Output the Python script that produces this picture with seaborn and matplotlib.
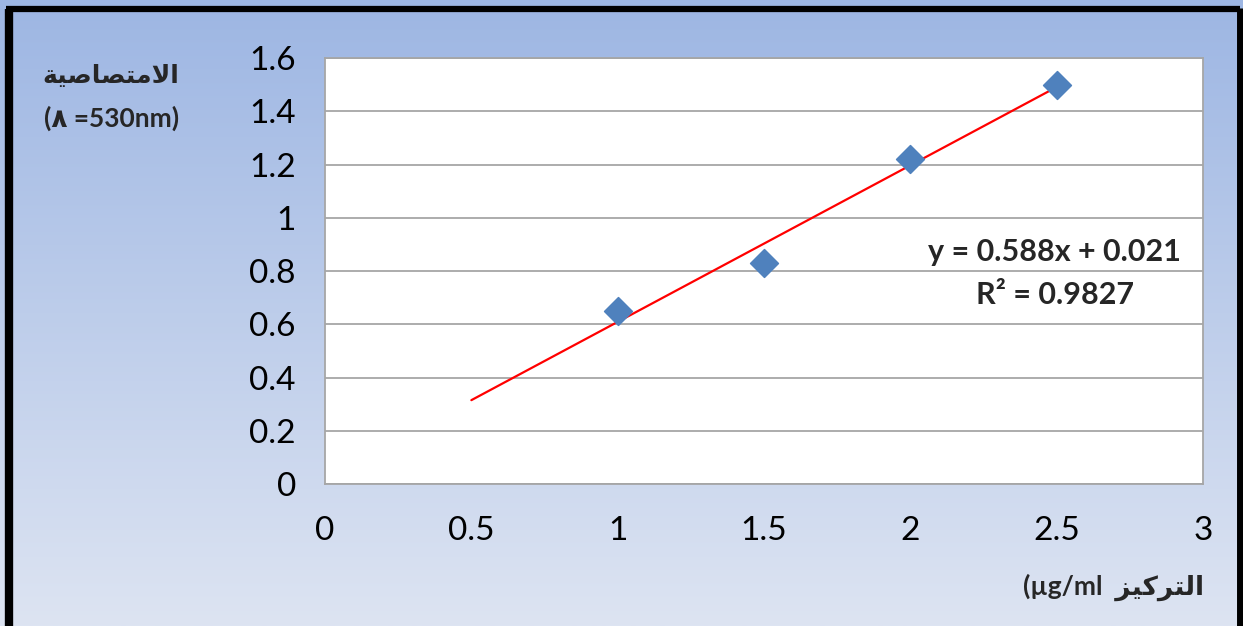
import numpy as np
import pandas as pd
import matplotlib
matplotlib.use("Agg")
import matplotlib.pyplot as plt
import seaborn as sns

# calibration data
conc = [1.0, 1.5, 2.0, 2.5]
absorb = [0.65, 0.83, 1.22, 1.50]
trend_range = [0.5, 2.5]
x_ticks = [0, 0.5, 1, 1.5, 2, 2.5, 3]
y_ticks = [0, 0.2, 0.4, 0.6, 0.8, 1.0, 1.2, 1.4, 1.6]
y_ticklabels = ["0", "0.2", "0.4", "0.6", "0.8", "1", "1.2", "1.4", "1.6"]

# small arabic shaper (matplotlib has no bidi / joining)
FORMS = {
    "ا": ("\uFE8D", "\uFE8E", None, None),
    "ل": ("\uFEDD", "\uFEDE", "\uFEDF", "\uFEE0"),
    "م": ("\uFEE1", "\uFEE2", "\uFEE3", "\uFEE4"),
    "ت": ("\uFE95", "\uFE96", "\uFE97", "\uFE98"),
    "ص": ("\uFEB9", "\uFEBA", "\uFEBB", "\uFEBC"),
    "ي": ("\uFEF1", "\uFEF2", "\uFEF3", "\uFEF4"),
    "ة": ("\uFE93", "\uFE94", None, None),
    "ر": ("\uFEAD", "\uFEAE", None, None),
    "ك": ("\uFED9", "\uFEDA", "\uFEDB", "\uFEDC"),
    "ز": ("\uFEAF", "\uFEB0", None, None),
    "لا": ("\uFEFB", "\uFEFC", None, None),
}

def shape(word):
    toks = []
    i = 0
    while i < len(word):
        if word[i] == "ل" and i + 1 < len(word) and word[i + 1] == "ا":
            toks.append("لا"); i += 2
        else:
            toks.append(word[i]); i += 1
    res = []
    for k, t in enumerate(toks):
        f = FORMS.get(t)
        if f is None:
            res.append(t); continue
        prev = toks[k - 1] if k > 0 else None
        nxt = toks[k + 1] if k + 1 < len(toks) else None
        jp = prev in FORMS and FORMS[prev][2] is not None
        jn = nxt in FORMS and f[2] is not None
        if jp and jn:
            res.append(f[3])
        elif jp:
            res.append(f[1])
        elif jn:
            res.append(f[2])
        else:
            res.append(f[0])
    return "".join(reversed(res))

sns.set_style("white")
plt.rcParams["font.family"] = ["Lato", "DejaVu Sans"]

df = pd.DataFrame({"conc": conc, "abs": absorb})
slope, icpt = np.polyfit(df["conc"], df["abs"], 1)
r2 = np.corrcoef(df["conc"], df["abs"])[0, 1] ** 2
tr = pd.DataFrame({"x": trend_range, "y": [slope * v + icpt for v in trend_range]})

fig = plt.figure(figsize=(12.43, 6.26), dpi=100)

# gradient background + black frame
bg = fig.add_axes([0, 0, 1, 1], zorder=0)
grad = np.linspace(0, 1, 256).reshape(-1, 1, 1)
top = np.array([157, 182, 227]) / 255
bot = np.array([221, 228, 242]) / 255
img = top + (bot - top) * grad
bg.imshow(img, aspect="auto", extent=[0, 1, 0, 1], origin="upper")
bg.plot([0.0072, 0.0072], [0, 0.985], color="black", lw=6, solid_capstyle="butt")
bg.plot([0.0048, 0.9975], [0.985, 0.985], color="black", lw=4.5, solid_capstyle="butt")
bg.plot([0.9975, 0.9975], [0, 0.9868], color="black", lw=5, solid_capstyle="butt")
bg.set_xlim(0, 1); bg.set_ylim(0, 1)
bg.axis("off")

ax = fig.add_axes([0.2615, 0.2268, 0.7063, 0.6805], zorder=1)
ax.set_facecolor("white")

sns.lineplot(data=tr, x="x", y="y", ax=ax, color="#FF0000", lw=1.6, zorder=3)
sns.scatterplot(data=df, x="conc", y="abs", ax=ax, marker="D", s=200,
                color="#4F81BD", edgecolor="#4F81BD", zorder=4)

ax.set_xlim(0, 3)
ax.set_ylim(0, 1.6)
ax.set_xticks(x_ticks)
ax.set_xticklabels([f"{v:g}" for v in x_ticks], fontsize=24)
ax.set_yticks(y_ticks)
ax.set_yticklabels(y_ticklabels, fontsize=24)
ax.yaxis.grid(True, color="#A6A6A6", lw=1.3)
ax.xaxis.grid(False)
ax.set_axisbelow(True)
for s in ax.spines.values():
    s.set_color("#A6A6A6")
    s.set_linewidth(1.3)
ax.tick_params(axis="both", direction="out", length=7, width=1.3, color="#A6A6A6",
               labelcolor="black")
ax.tick_params(axis="x", pad=16)
ax.tick_params(axis="y", pad=14)
ax.set_xlabel("")
ax.set_ylabel("")

ax.text(0.831, 0.545, f"y = {slope:.3f}x + {icpt:.3f}", transform=ax.transAxes,
        ha="center", va="center", fontsize=22, fontweight="bold")
ax.text(0.831, 0.444, f"R² = {r2:.4f}", transform=ax.transAxes,
        ha="center", va="center", fontsize=22, fontweight="bold")

fig.text(0.089, 0.88, shape("الامتصاصية"), ha="center", va="center",
         fontsize=18, fontweight="bold")
fig.text(0.090, 0.811, "(٨ =530nm)", ha="center", va="center",
         fontsize=19, fontweight="bold")
fig.text(0.896, 0.061, "(µg/ml  " + shape("التركيز"), ha="center", va="center",
         fontsize=19, fontweight="bold")

fig.savefig("out.png", dpi=100)
